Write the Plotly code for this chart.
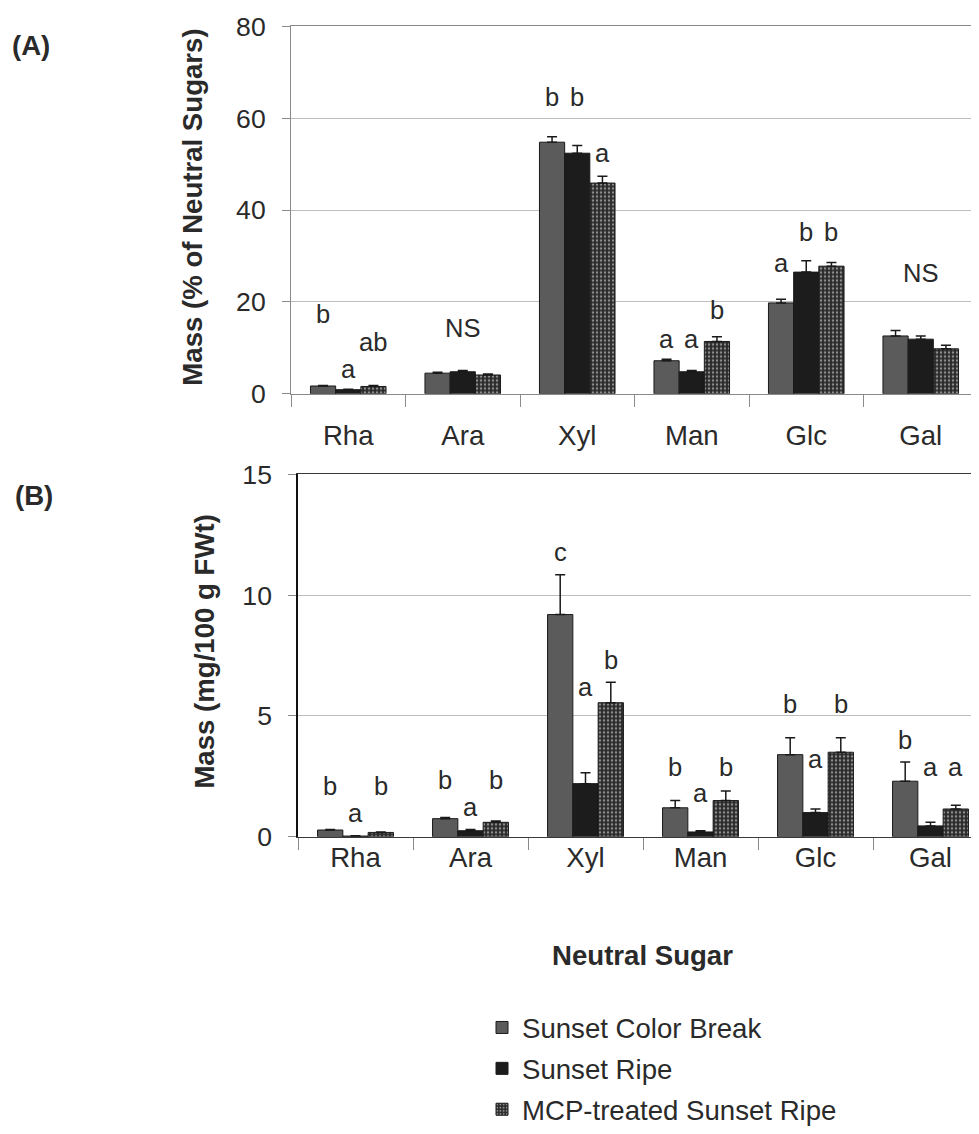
import plotly.graph_objects as go

categories = ["Rha", "Ara", "Xyl", "Man", "Glc", "Gal"]
series_names = ["Sunset Color Break", "Sunset Ripe", "MCP-treated Sunset Ripe"]

# Panel A: Mass (% of neutral sugars)
a_break = [1.7, 4.5, 54.8, 7.2, 19.8, 12.6]
a_ripe = [0.9, 4.8, 52.4, 4.8, 26.5, 11.9]
a_mcp = [1.6, 4.1, 45.9, 11.4, 27.8, 9.8]
a_break_err = [0.1, 0.2, 1.2, 0.3, 0.8, 1.2]
a_ripe_err = [0.1, 0.3, 1.7, 0.3, 2.5, 0.7]
a_mcp_err = [0.2, 0.2, 1.5, 1.0, 0.8, 0.8]

# Panel B: Mass (mg/100 g FWt)
b_break = [0.28, 0.75, 9.2, 1.2, 3.4, 2.3]
b_ripe = [0.03, 0.25, 2.2, 0.2, 1.0, 0.45]
b_mcp = [0.18, 0.6, 5.55, 1.5, 3.5, 1.15]
b_break_err = [0.02, 0.05, 1.65, 0.3, 0.7, 0.8]
b_ripe_err = [0.01, 0.05, 0.45, 0.05, 0.15, 0.15]
b_mcp_err = [0.02, 0.05, 0.85, 0.4, 0.6, 0.15]

# Significance letters: (category index, series index or None for centered, text, y level)
a_letters = [
    (0, 0, "b", 17.4), (0, 1, "a", 5.4), (0, 2, "ab", 11.3),
    (1, None, "NS", 14.3),
    (2, 0, "b", 64.6), (2, 1, "b", 64.6), (2, 2, "a", 52.4),
    (3, 0, "a", 12.0), (3, 1, "a", 12.0), (3, 2, "b", 18.3),
    (4, 0, "a", 28.5), (4, 1, "b", 35.2), (4, 2, "b", 35.2),
    (5, None, "NS", 26.3),
]
b_letters = [
    (0, 0, "b", 2.1), (0, 1, "a", 1.0), (0, 2, "b", 2.1),
    (1, 0, "b", 2.35), (1, 1, "a", 1.25), (1, 2, "b", 2.35),
    (2, 0, "c", 11.8), (2, 1, "a", 6.2), (2, 2, "b", 7.3),
    (3, 0, "b", 2.9), (3, 1, "a", 1.8), (3, 2, "b", 2.9),
    (4, 0, "b", 5.5), (4, 1, "a", 3.2), (4, 2, "b", 5.5),
    (5, 0, "b", 4.0), (5, 1, "a", 2.9), (5, 2, "a", 2.9),
]

FONT = "Liberation Sans, Arial, sans-serif"
TXT = "#2a2a2a"
BARGAP = 0.34
BW = (1 - BARGAP) / 3

W, H = 979, 1134
# calibration between figure pixels and photographed pixels
OX = 8.0
SCY, OY = 0.978, 20.5

def px(r):
    return max(0.0, min(1.0, (r - OX) / W))

def py(r):
    return 1 - ((r - OY) / SCY) / H

def fs(s):
    return s / SCY

colors = ["#5b5b5b", "#1c1c1c", "#2e2e2e"]

def bar_style(i):
    m = dict(color=colors[i], line=dict(color="#1a1a1a", width=1))
    if i == 2:
        m["pattern"] = dict(shape=".", fgcolor="#8c8c8c", bgcolor="#2a2a2a",
                            size=4, solidity=0.3, fillmode="replace")
    return m

fig = go.Figure()
panelA = [(a_break, a_break_err), (a_ripe, a_ripe_err), (a_mcp, a_mcp_err)]
panelB = [(b_break, b_break_err), (b_ripe, b_ripe_err), (b_mcp, b_mcp_err)]
for i, (vals, errs) in enumerate(panelA):
    fig.add_trace(go.Bar(
        x=categories, y=vals, name=series_names[i], marker=bar_style(i),
        error_y=dict(type="data", array=errs, arrayminus=[0] * len(errs), symmetric=False,
                     color="#1a1a1a", thickness=1.5, width=5),
        xaxis="x", yaxis="y", legendgroup=f"g{i}", showlegend=True))
for i, (vals, errs) in enumerate(panelB):
    fig.add_trace(go.Bar(
        x=categories, y=vals, name=series_names[i], marker=bar_style(i),
        error_y=dict(type="data", array=errs, arrayminus=[0] * len(errs), symmetric=False,
                     color="#1a1a1a", thickness=1.5, width=5),
        xaxis="x2", yaxis="y2", legendgroup=f"g{i}", showlegend=False))

annotations = []
for letters, xr, yr in [(a_letters, "x", "y"), (b_letters, "x2", "y2")]:
    for ci, si, t, yv in letters:
        xpos = ci if si is None else ci + (si - 1) * BW
        annotations.append(dict(x=xpos, y=yv, xref=xr, yref=yr, text=t, showarrow=False,
                                font=dict(family=FONT, size=fs(25), color=TXT),
                                xanchor="center", yanchor="middle"))

annotations += [
    dict(x=px(10), y=py(43), xref="paper", yref="paper", text="<b>(A)</b>", showarrow=False,
         xanchor="left", yanchor="middle", font=dict(family=FONT, size=fs(27), color=TXT)),
    dict(x=px(13), y=py(495), xref="paper", yref="paper", text="<b>(B)</b>", showarrow=False,
         xanchor="left", yanchor="middle", font=dict(family=FONT, size=fs(27), color=TXT)),
    dict(x=px(193), y=py(206), xref="paper", yref="paper", text="<b>Mass (% of Neutral Sugars)</b>",
         showarrow=False, textangle=-90, xanchor="center", yanchor="middle",
         font=dict(family=FONT, size=fs(27), color=TXT)),
    dict(x=px(205), y=py(652), xref="paper", yref="paper", text="<b>Mass (mg/100 g FWt)</b>",
         showarrow=False, textangle=-90, xanchor="center", yanchor="middle",
         font=dict(family=FONT, size=fs(27), color=TXT)),
    dict(x=px(642), y=py(957), xref="paper", yref="paper", text="<b>Neutral Sugar</b>",
         showarrow=False, xanchor="center", yanchor="middle",
         font=dict(family=FONT, size=fs(27), color=TXT)),
]

ytickfont = dict(family=FONT, size=fs(26), color=TXT)
xtickfont = dict(family=FONT, size=fs(27), color=TXT)

catA = 114.5
catB = 115.0
xA0 = 291 - OX
xB0 = 298 - OX

fig.update_layout(
    width=W, height=H, margin=dict(l=0, r=0, t=0, b=0),
    paper_bgcolor="white", plot_bgcolor="white",
    barmode="group", bargap=BARGAP, bargroupgap=0,
    font=dict(family=FONT, color=TXT),
    xaxis=dict(domain=[px(291), 1.0], range=[-0.5, -0.5 + (W - xA0) / catA], type="category",
               anchor="y", showline=True, mirror=True, linecolor="#8a8a8a", linewidth=1,
               ticks="outside", tickson="boundaries", ticklen=12, tickcolor="#8a8a8a",
               ticklabelstandoff=17, tickfont=xtickfont, showgrid=False, zeroline=False),
    yaxis=dict(domain=[py(393), py(24)], range=[0, 80], dtick=20, anchor="x",
               showline=True, linecolor="#8a8a8a", linewidth=1,
               ticks="outside", ticklen=8, tickcolor="#8a8a8a", ticklabelstandoff=11,
               tickfont=ytickfont, showgrid=True, gridcolor="#bdbdbd", gridwidth=1,
               zeroline=False),
    xaxis2=dict(domain=[px(298), 1.0], range=[-0.5, -0.5 + (W - xB0) / catB], type="category",
                anchor="y2", showline=True, mirror=True, linecolor="#3a3a3a", linewidth=1.2,
                ticks="outside", tickson="boundaries", ticklen=12, tickcolor="#8a8a8a",
                ticklabelstandoff=-4, tickfont=xtickfont, showgrid=False, zeroline=False),
    yaxis2=dict(domain=[py(838), py(474)], range=[0, 15], dtick=5, anchor="x2",
                showline=True, linecolor="#111111", linewidth=1.5,
                ticks="outside", ticklen=8, tickcolor="#8a8a8a", ticklabelstandoff=11,
                tickfont=ytickfont, showgrid=True, gridcolor="#bdbdbd", gridwidth=1,
                zeroline=False),
    legend=dict(x=474 / W, y=py(1005), xanchor="left", yanchor="top",
                font=dict(family=FONT, size=fs(27), color=TXT), tracegroupgap=2,
                itemwidth=30, bgcolor="rgba(0,0,0,0)"),
    annotations=annotations,
)

fig.write_html("out.html")
